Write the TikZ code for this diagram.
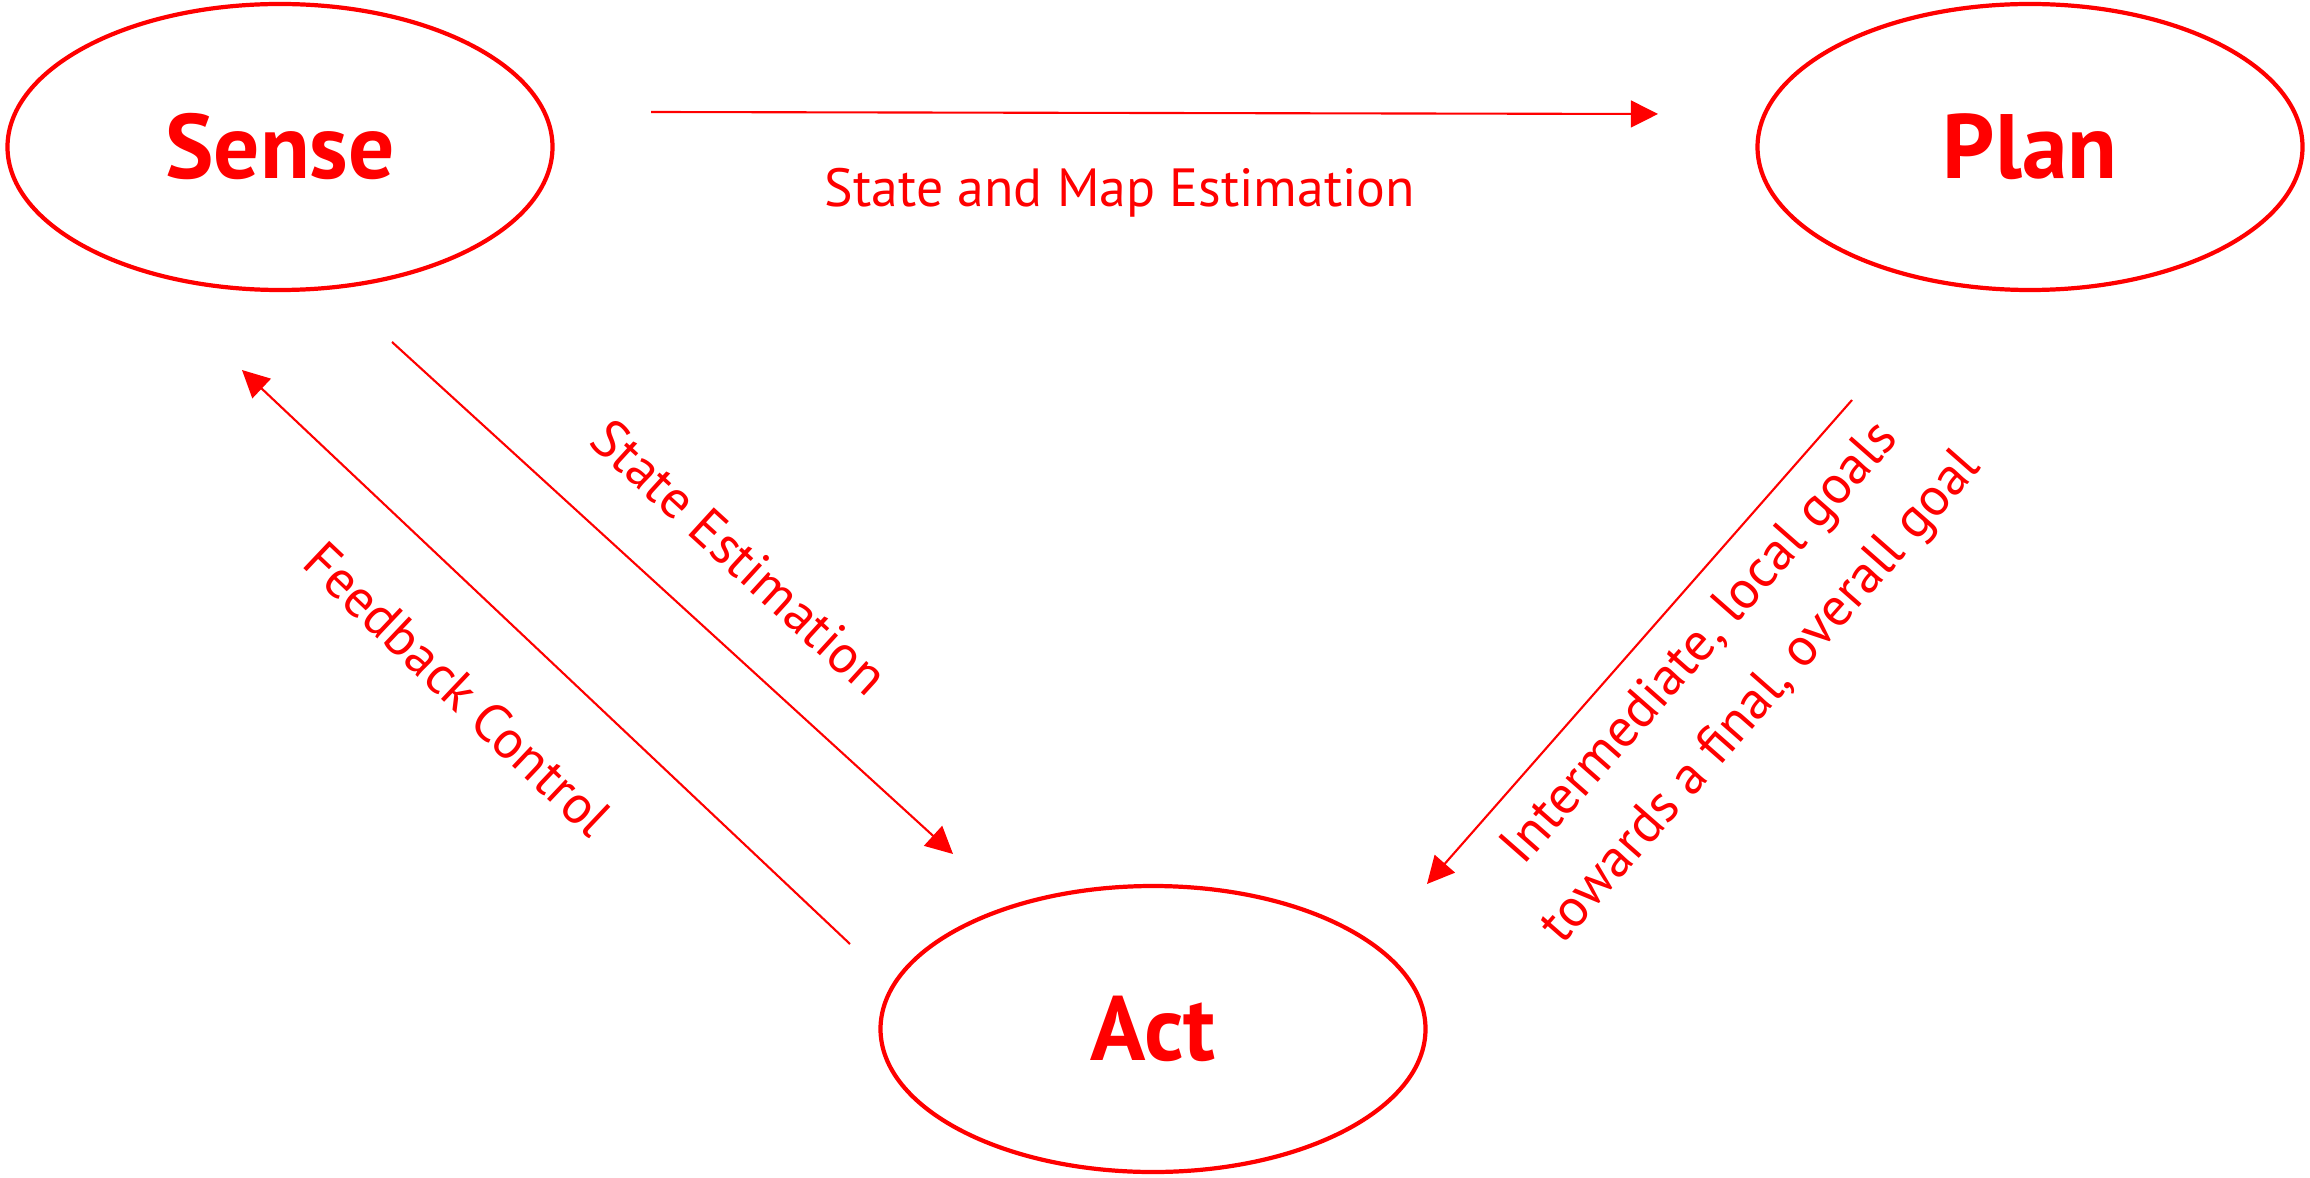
\documentclass[tikz,border=0pt]{standalone}
\usepackage{fontspec}
\setmainfont{PT Sans}
\usetikzlibrary{shapes.geometric, arrows.meta}

\begin{document}
\begin{tikzpicture}[red,
		state/.style = {draw, ellipse, line width = 1.2pt, minimum width = 5.45cm, minimum height = 2.86cm, inner sep = 0pt, font = \fontsize{26}{30}\selectfont\bfseries},
		flow/.style = {line width = 0.6pt, -{Triangle[length = 7.7pt, width = 7.6pt]}},
		lbl/.style = {font = \fontsize{15.3}{23}\selectfont, align = center, inner sep = 0pt}]

			\useasboundingbox (0,0) rectangle (23.1,11.77);

			\node[state] (sense) at (2.80,10.30) {Sense};
			\node[state] (plan) at (20.30,10.30) {Plan};
			\node[state] (act) at (11.53,1.48) {Act};

			% free ends of the arrows
			\coordinate (sp1) at (6.51,10.65);
			\coordinate (sp2) at (16.58,10.63);
			\coordinate (sa1) at (3.92,8.35);
			\coordinate (sa2) at (9.53,3.23);
			\coordinate (as1) at (8.50,2.33);
			\coordinate (as2) at (2.42,8.07);
			\coordinate (pa1) at (18.52,7.77);
			\coordinate (pa2) at (14.27,2.93);

			\draw[flow] (sp1) -- (sp2);
			\draw[flow] (sa1) -- (sa2);
			\draw[flow] (as1) -- (as2);
			\draw[flow] (pa1) -- (pa2);

			\node[lbl] (mapest) at (11.20,9.84) {State and Map Estimation};
			\node[lbl, rotate = -42.4] (stateest) at (7.40,6.20) {State Estimation};
			\node[lbl, rotate = -43.4] (feedback) at (4.58,4.88) {Feedback Control};
			\node[lbl, rotate = 48.7] (goals) at (17.32,5.06) {Intermediate, local goals\\towards a final, overall goal};
		\end{tikzpicture}
\end{document}
